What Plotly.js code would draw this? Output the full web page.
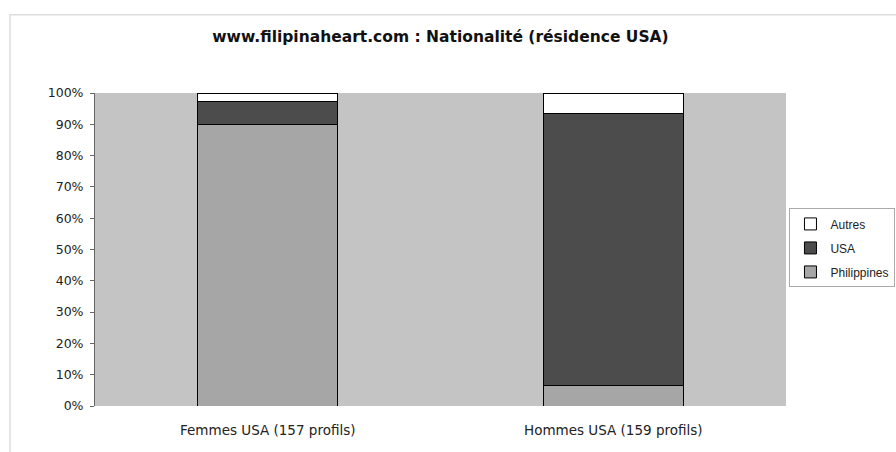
<!DOCTYPE html>
<html>
<head>
<meta charset="utf-8">
<script src="https://cdn.plot.ly/plotly-3.0.1.min.js"></script>
<style>html,body{margin:0;padding:0;background:#fff;}#chart{width:896px;height:452px;}</style>
</head>
<body>
<div id="chart"></div>
<script>
var categories = ["Femmes USA (157 profils)", "Hommes USA (159 profils)"];
var philippines = [89.8, 6.4];
var usa = [7.6, 87.2];
var autres = [2.6, 6.4];
var seriesNames = ["Philippines", "USA", "Autres"];
var tickVals = [0, 10, 20, 30, 40, 50, 60, 70, 80, 90, 100];
var tickText = ["0%", "10%", "20%", "30%", "40%", "50%", "60%", "70%", "80%", "90%", "100%"];

var colors = ["#a6a6a6", "#4c4c4c", "#ffffff"];
var vals = [philippines, usa, autres];
var traces = vals.map(function (v, i) {
  return {
    type: "bar",
    name: seriesNames[i],
    legendgroup: "g" + i,
    legendrank: 3 - i,
    x: categories,
    y: v,
    width: 0.405,
    marker: { color: colors[i], line: { color: "#000", width: 1 } },
    hoverinfo: "name+y"
  };
});

var layout = {
  width: 896,
  height: 452,
  paper_bgcolor: "#ffffff",
  plot_bgcolor: "#c4c4c4",
  barmode: "stack",
  margin: { l: 95, r: 110, t: 93, b: 46, autoexpand: false },
  font: { family: "DejaVu Sans, Verdana, sans-serif", color: "#222", size: 12 },
  title: {
    text: "<b>www.filipinaheart.com : Nationalité (résidence USA)</b>",
    font: { size: 15.5, color: "#111" },
    x: 0.5, xanchor: "center", xref: "paper",
    y: 0.92, yanchor: "middle", yref: "container"
  },
  xaxis: {
    type: "category",
    range: [-0.5, 1.5],
    showline: false,
    ticks: "outside",
    ticklen: 12,
    tickcolor: "rgba(0,0,0,0)",
    tickfont: { size: 13.5 },
    fixedrange: true
  },
  yaxis: {
    range: [0, 100],
    tickvals: tickVals,
    ticktext: tickText,
    showgrid: false,
    zeroline: false,
    showline: true,
    linecolor: "#666",
    linewidth: 1,
    ticks: "outside",
    ticklen: 4,
    ticklabelstandoff: 4,
    tickcolor: "#666",
    tickfont: { size: 12.5 },
    fixedrange: true
  },
  showlegend: true,
  legend: {
    traceorder: "grouped",
    x: 1.005, xanchor: "left",
    y: 0.505, yanchor: "middle",
    bgcolor: "#ffffff",
    bordercolor: "#aaa",
    borderwidth: 1,
    font: { family: "Liberation Sans, Arial, sans-serif", size: 12, color: "#222" },
    itemwidth: 30,
    tracegroupgap: 5
  },
  shapes: [
    { type: "rect", xref: "paper", yref: "paper", x0: -0.123, x1: 1.17, y0: -0.2, y1: 1.25,
      line: { color: "#dddddd", width: 1.5 }, fillcolor: "rgba(0,0,0,0)", layer: "below" }
  ]
};

Plotly.newPlot("chart", traces, layout, { displayModeBar: false, staticPlot: true });
</script>
</body>
</html>
